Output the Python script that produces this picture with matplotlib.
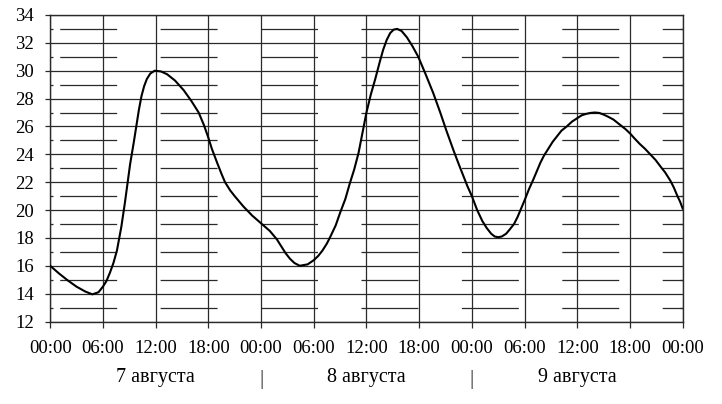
import numpy as np
import matplotlib
matplotlib.use('Agg')
import matplotlib.pyplot as plt
from matplotlib.ticker import MultipleLocator

plt.rcParams['font.family'] = ['Liberation Serif', 'DejaVu Serif']
plt.rcParams['lines.scale_dashes'] = False

# hours since 00:00 7 August, temperature
hours = [0, 1, 2, 3, 4, 4.8, 5.5, 6, 6.4, 6.8, 7.2, 7.6, 8.1, 8.5, 8.8, 9.1, 9.5,
         9.8, 10.1, 10.4, 10.7, 11.0, 11.4, 11.9, 12.6, 13.3, 14.2, 15.2, 16.1,
         16.9, 17.5, 18.0, 18.4, 19.0, 19.5, 19.9, 20.5, 21.0, 22.0, 23.0, 24.0,
         25.0, 25.8, 26.3, 26.8, 27.3, 27.8, 28.4, 29.3, 30.0, 30.5, 31.0, 31.5,
         31.9, 32.5, 33.0, 33.6, 34.1, 34.6, 35.1, 35.6, 36.0, 36.5, 37.0, 37.5,
         37.9, 38.3, 38.7, 39.1, 39.5, 40.0, 40.6, 41.2, 41.9, 42.7, 43.6, 44.4,
         45.1, 45.9, 46.5, 47.0, 47.5, 48.0, 48.6, 49.2, 49.7, 50.2, 50.6, 51.0,
         51.4, 51.9, 52.3, 52.8, 53.2, 53.6, 54.0, 54.5, 55.0, 55.4, 55.8, 56.2,
         56.7, 57.2, 57.7, 58.2, 58.8, 59.4, 60.0, 60.5, 61.0, 61.5, 62.0, 62.5,
         63.0, 63.5, 64.1, 64.5, 65.0, 65.5, 66.0, 66.5, 67.1, 67.7, 68.3, 68.9,
         69.5, 70.0, 70.6, 71.0, 71.4, 71.7, 72.0]
temps = [16.0, 15.45, 14.95, 14.5, 14.15, 13.95, 14.1, 14.5, 14.9, 15.5, 16.2, 17.1,
         18.8, 20.5, 21.9, 23.3, 24.8, 26.0, 27.2, 28.2, 28.9, 29.4, 29.8, 30.0,
         29.95, 29.75, 29.3, 28.6, 27.8, 27.0, 26.1, 25.2, 24.4, 23.4, 22.6, 22.0,
         21.4, 21.0, 20.25, 19.6, 19.05, 18.5, 17.9, 17.4, 16.9, 16.5, 16.2, 16.0,
         16.1, 16.4, 16.7, 17.1, 17.6, 18.1, 18.9, 19.8, 20.8, 21.9, 22.9, 24.1,
         25.7, 27.0, 28.3, 29.4, 30.6, 31.5, 32.2, 32.7, 32.95, 33.0, 32.85, 32.4,
         31.8, 31.0, 29.8, 28.4, 27.0, 25.7, 24.3, 23.3, 22.5, 21.7, 21.0, 20.0,
         19.2, 18.7, 18.3, 18.1, 18.05, 18.1, 18.3, 18.6, 19.0, 19.5, 20.1, 20.7,
         21.5, 22.2, 22.8, 23.4, 23.9, 24.4, 24.9, 25.3, 25.7, 26.0, 26.35, 26.6,
         26.8, 26.9, 26.97, 27.0, 26.97, 26.85, 26.7, 26.5, 26.3, 26.05, 25.8, 25.5,
         25.15, 24.75, 24.4, 24.0, 23.6, 23.1, 22.7, 22.1, 21.6, 21.0, 20.6, 20.1]

tick_labels = ['00:00', '06:00', '12:00', '18:00'] * 3 + ['00:00']
day_labels = ['7 августа', '8 августа', '9 августа']

fig = plt.figure(figsize=(7.22, 4.04), dpi=100)
ax = fig.add_axes([0.0695, 0.2042, 0.8761, 0.7587])

ax.plot(hours, temps, color='black', linewidth=1.5, zorder=3,
        solid_joinstyle='round')

ax.set_xlim(0, 72)
ax.set_ylim(12, 34)
ax.set_xticks(np.arange(0, 73, 6))
ax.set_xticklabels(tick_labels)
ax.yaxis.set_major_locator(MultipleLocator(2))
ax.yaxis.set_minor_locator(MultipleLocator(1))

ax.set_axisbelow(True)
ax.grid(which='major', color='#2a2a2a', linewidth=0.9)
# odd-degree lines are long dashes
ax.grid(which='minor', axis='y', color='#2a2a2a', linewidth=0.9,
        linestyle=(65.3, (41, 31.3)))

ax.tick_params(axis='x', which='major', direction='out', length=4.2, width=0.9,
               labelsize=13.5, pad=9, color='#2a2a2a')
ax.tick_params(axis='y', which='major', direction='out', length=3.6, width=0.9,
               labelsize=13.5, pad=8, color='#2a2a2a')
ax.tick_params(axis='y', which='minor', direction='in', length=2.3, width=0.9,
               left=True, right=True, color='#2a2a2a')
for s in ax.spines.values():
    s.set_color('#2a2a2a')
    s.set_linewidth(1.0)

trans = ax.get_xaxis_transform()
for i, lab in enumerate(day_labels):
    ax.text(12 + 24 * i, -0.184, lab, transform=trans, ha='center', va='center',
            fontsize=14.5)
for i in range(1, len(day_labels)):
    ax.text(24 * i, -0.19, '|', transform=trans, ha='center', va='center',
            fontsize=15, color='#2a2a2a')

fig.savefig('out.png', dpi=100)
